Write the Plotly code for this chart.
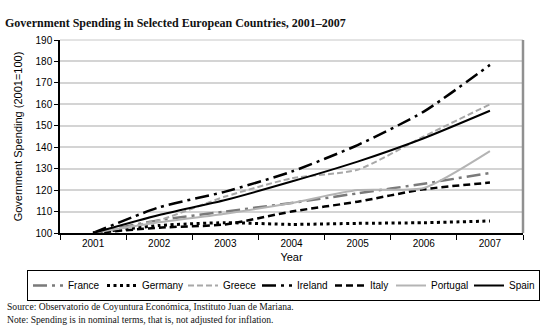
import plotly.graph_objects as go

years = ["2001", "2002", "2003", "2004", "2005", "2006", "2007"]
france = [100, 106, 110, 114, 118.5, 123, 128]
germany = [100, 103.5, 104.8, 104, 104.5, 104.8, 105.6]
greece = [100, 106, 117, 125.5, 129.5, 145, 160]
ireland = [100, 112, 119.3, 128.6, 141, 156.6, 178.4]
italy = [100, 102.5, 104, 110, 114.6, 120.4, 123.5]
portugal = [100, 105, 109, 114, 120, 121, 138.2]
spain = [100, 108.4, 115.4, 124, 133.3, 144.2, 157]

# name, values, colour, dash, width, legend entry width
series = [
    ("France", france, "#7a7a7a", "14px,5px,3px,5px", 2.5, 29),
    ("Germany", germany, "#000000", "3px,3.5px", 3, 36),
    ("Greece", greece, "#a8a8a8", "6px,3px", 2, 29),
    ("Ireland", ireland, "#000000", "14px,5px,3px,5px", 2.5, 28),
    ("Italy", italy, "#000000", "7px,4px", 2.5, 16),
    ("Portugal", portugal, "#b4b4b4", "solid", 2, 33),
    ("Spain", spain, "#000000", "solid", 2, 25),
]

fig = go.Figure()
for name, vals, color, dash, w, lw in series:
    fig.add_trace(go.Scatter(
        x=years, y=vals, name=name, mode="lines", legendwidth=lw,
        line=dict(color=color, dash=dash, width=w, shape="spline", smoothing=0.6),
    ))

W, H = 550, 331
L, R, T, B = 60, 27, 40, 98
pw, ph = W - L - R, H - T - B

def px(x):
    return (x - L) / pw

def py(y):
    return (H - B - y) / ph

fig.update_layout(
    width=W, height=H,
    margin=dict(l=L, r=R, t=T, b=B, autoexpand=False),
    paper_bgcolor="white", plot_bgcolor="white",
    font=dict(family="Liberation Sans, Arial", size=10, color="#000"),
    title=dict(
        text="<b>Government Spending in Selected European Countries, 2001–2007</b>",
        font=dict(family="Liberation Serif, Times New Roman", size=12, color="#111"),
        xref="container", yref="container", x=5 / W, xanchor="left",
        y=1 - 23 / H, yanchor="middle",
    ),
    xaxis=dict(
        type="category", range=[-0.5, 6.5], tickson="boundaries", ticks="outside",
        ticklen=5, tickcolor="#000", showline=True, linecolor="#000", linewidth=2,
        showgrid=False, tickfont=dict(size=10), automargin=False,
        title=dict(text="Year", font=dict(size=11), standoff=5),
    ),
    yaxis=dict(
        range=[100, 190], dtick=10, ticks="outside", ticklen=4, tickcolor="#000",
        showline=True, linecolor="#000", linewidth=1.5,
        showgrid=True, gridcolor="#d4d4d4", gridwidth=1.5,
        tickfont=dict(size=10), zeroline=False, automargin=False,
        title=dict(text="Government Spending (2001=100)", font=dict(size=11), standoff=11),
    ),
    showlegend=True,
    legend=dict(
        orientation="h", xref="paper", yref="paper",
        x=px(27), xanchor="left", y=py(270), yanchor="top",
        bordercolor="#000", borderwidth=1, font=dict(size=10),
        itemwidth=30, tracegroupgap=0,
    ),
)

# plot frame (top/right)
fig.add_shape(type="line", xref="paper", yref="paper", x0=0, x1=1, y0=1, y1=1,
              line=dict(color="#c8c8c8", width=1))
fig.add_shape(type="line", xref="paper", yref="paper", x0=1, x1=1, y0=0, y1=1,
              line=dict(color="#909090", width=2.5))

notes = [
    ("Source: Observatorio de Coyuntura Económica, Instituto Juan de Mariana.", 306),
    ("Note: Spending is in nominal terms, that is, not adjusted for inflation.", 319),
]
for txt, yy in notes:
    fig.add_annotation(text=txt, xref="paper", yref="paper", x=px(5), y=py(yy),
                       xanchor="left", yanchor="middle", showarrow=False,
                       font=dict(family="Liberation Serif, Times New Roman", size=9.6, color="#111"))

fig.write_html("out.html")
